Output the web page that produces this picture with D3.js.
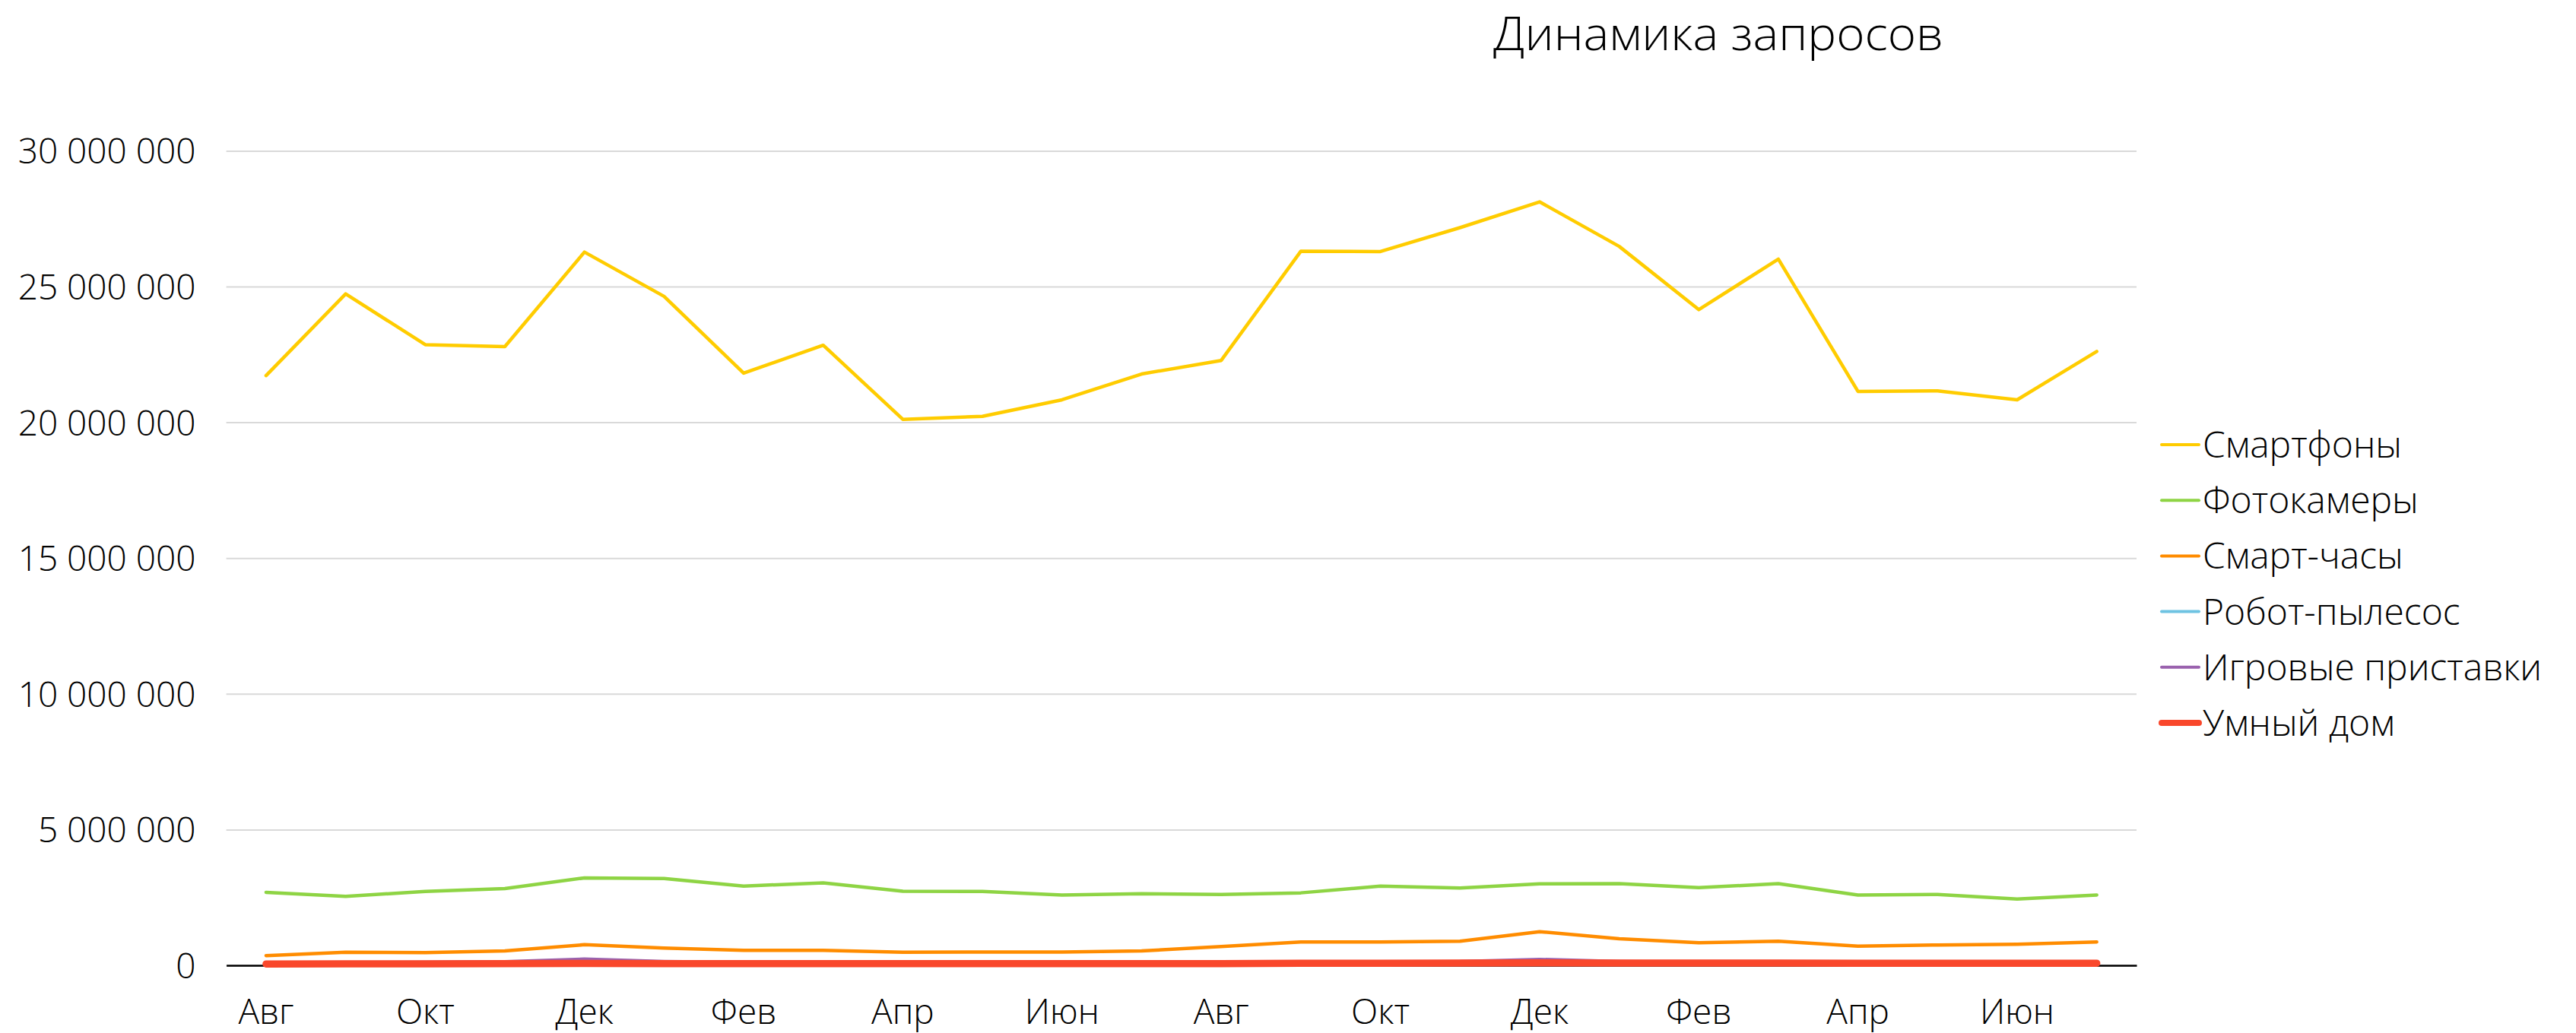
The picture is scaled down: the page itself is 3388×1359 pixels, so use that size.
<!DOCTYPE html>
<html>
<head>
<meta charset="utf-8">
<script src="https://cdn.jsdelivr.net/npm/d3@7"></script>
<style>
  body { margin: 0; background: #fff; }
  svg text { font-family: "Open Sans", sans-serif; font-weight: 300; fill: #000; }
</style>
</head>
<body>
<svg id="chart" width="3388" height="1359"></svg>
<script>
// months, Aug .. Jul (two years)
const months = ["Авг", "Сен", "Окт", "Ноя", "Дек", "Янв", "Фев", "Мар", "Апр", "Май", "Июн", "Июл",
                "Авг", "Сен", "Окт", "Ноя", "Дек", "Янв", "Фев", "Мар", "Апр", "Май", "Июн", "Июл"];

const smartphones = [21720000, 24730000, 22860000, 22790000, 26270000, 24640000, 21810000, 22840000,
                     20110000, 20220000, 20830000, 21780000, 22280000, 26300000, 26290000, 27170000,
                     28120000, 26480000, 24150000, 26010000, 21140000, 21160000, 20830000, 22610000];
const cameras = [2690000, 2540000, 2720000, 2830000, 3220000, 3200000, 2920000, 3040000,
                 2730000, 2720000, 2590000, 2640000, 2610000, 2670000, 2920000, 2850000,
                 3000000, 3010000, 2860000, 3010000, 2590000, 2610000, 2440000, 2590000];
const smartWatches = [360000, 480000, 470000, 530000, 760000, 640000, 550000, 550000,
                      480000, 490000, 490000, 530000, 690000, 860000, 860000, 890000,
                      1240000, 980000, 830000, 890000, 710000, 750000, 780000, 860000];
const robotVacuums = [80000, 90000, 90000, 100000, 120000, 100000, 90000, 90000,
                      80000, 80000, 80000, 80000, 90000, 100000, 110000, 110000,
                      130000, 110000, 100000, 110000, 90000, 90000, 90000, 100000];
const consoles = [90000, 100000, 110000, 130000, 230000, 140000, 110000, 110000,
                  90000, 90000, 90000, 90000, 100000, 120000, 130000, 140000,
                  220000, 140000, 120000, 130000, 100000, 100000, 100000, 110000];
const smartHome = [50000, 55000, 55000, 60000, 70000, 65000, 60000, 60000,
                   60000, 60000, 60000, 60000, 65000, 75000, 80000, 85000,
                   90000, 85000, 85000, 85000, 80000, 80000, 80000, 80000];

const seriesNames = ["Смартфоны", "Фотокамеры", "Смарт-часы", "Робот-пылесос", "Игровые приставки", "Умный дом"];
const seriesColors = ["#FFCC00", "#8ED444", "#FF8C00", "#6EC3E2", "#9A62AE", "#F9472B"];
const seriesWidths = [4.5, 4.5, 4.5, 4.5, 4.5, 9.5];
const yTicks = [0, 5000000, 10000000, 15000000, 20000000, 25000000, 30000000];

const seriesValues = [smartphones, cameras, smartWatches, robotVacuums, consoles, smartHome];

const svg = d3.select("#chart");
const plotLeft = 297.6, plotRight = 2810, plotTop = 198.4, plotBottom = 1270;

const x = d3.scaleBand()
  .domain(months.map((m, i) => i))
  .range([plotLeft, plotRight]);
const xc = i => x(i) + x.bandwidth() / 2;

const y = d3.scaleLinear()
  .domain([0, 30000000])
  .range([plotBottom, plotTop]);

const ru = d3.formatLocale({ decimal: ",", thousands: " ", grouping: [3], currency: ["", ""] });
const fmt = ru.format(",d");

// title
svg.append("text")
  .attr("x", 1964)
  .attr("y", 66)
  .attr("textLength", 592)
  .attr("lengthAdjust", "spacingAndGlyphs")
  .style("font-size", "60px")
  .text("Динамика запросов");

// y gridlines + labels
const yAxis = svg.append("g")
  .attr("transform", `translate(${plotLeft},0)`)
  .call(d3.axisLeft(y).tickValues(yTicks).tickFormat(fmt)
    .tickSize(-(plotRight - plotLeft)).tickPadding(40));
yAxis.select(".domain").remove();
yAxis.selectAll(".tick line").attr("stroke", "#d9d9d9").attr("stroke-width", 2);
yAxis.selectAll(".tick text")
  .style("font-size", "46px")
  .attr("dy", "0.36em");

// category axis
const xAxis = svg.append("g")
  .attr("transform", `translate(0,${plotBottom})`)
  .call(d3.axisBottom(x).tickValues(months.map((m, i) => i).filter(i => i % 2 === 0))
    .tickFormat(i => months[i]).tickSize(0).tickSizeOuter(0));
xAxis.select(".domain").attr("stroke", "#000").attr("stroke-width", 2.5);
xAxis.selectAll(".tick text")
  .style("font-size", "46px")
  .attr("y", 77)
  .attr("dy", 0);

// lines
const line = d3.line()
  .x((d, i) => xc(i))
  .y(d => y(d));

svg.append("g")
  .selectAll("path")
  .data(seriesValues)
  .join("path")
  .attr("d", d => line(d))
  .attr("fill", "none")
  .attr("stroke", (d, i) => seriesColors[i])
  .attr("stroke-width", (d, i) => seriesWidths[i])
  .attr("stroke-linejoin", "round")
  .attr("stroke-linecap", "round");

// legend
const legend = svg.append("g")
  .selectAll("g")
  .data(seriesNames)
  .join("g")
  .attr("transform", (d, i) => `translate(2843,${585 + i * 73.2})`);

legend.append("line")
  .attr("x1", 0)
  .attr("x2", 49)
  .attr("stroke", (d, i) => seriesColors[i])
  .attr("stroke-width", (d, i) => i === 5 ? 8 : 4)
  .attr("stroke-linecap", "round");

legend.append("text")
  .attr("x", 54)
  .attr("y", 17)
  .style("font-size", "48px")
  .text(d => d);
</script>
</body>
</html>
